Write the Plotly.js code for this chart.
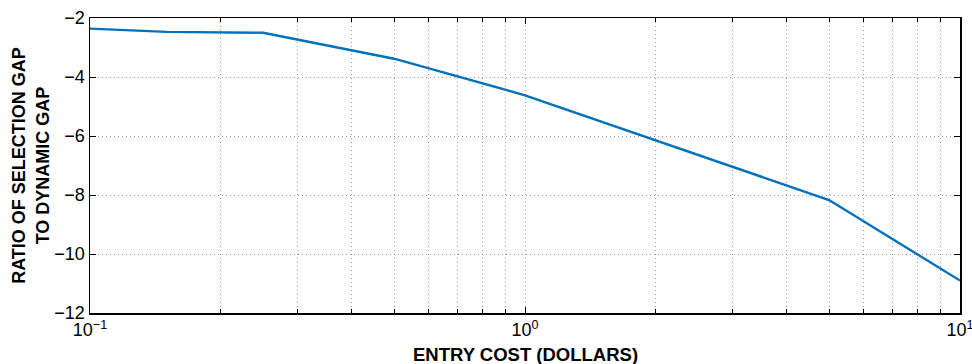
<!DOCTYPE html>
<html>
<head>
<meta charset="utf-8">
<script src="https://cdn.plot.ly/plotly-3.0.1.min.js"></script>
<style>
  html, body { margin: 0; padding: 0; background: #ffffff; }
  #chart { width: 972px; height: 364px; }
</style>
</head>
<body>
<div id="chart"></div>
<script>
// Entry cost (dollars) and the ratio of selection gap to dynamic gap
const entryCost = [0.1, 0.15, 0.25, 0.5, 1, 5, 10];
const gapRatio  = [-2.36, -2.47, -2.5, -3.38, -4.62, -8.17, -10.9];

// Decade ticks on the log axis
const xTickVals = [0.1, 1, 10];
const xTickText = ['10<sup>\u22121</sup>', '10<sup>0</sup>', '10<sup>1</sup>'];

const xTitle = 'ENTRY COST (DOLLARS)';
const yTitle = 'RATIO OF SELECTION GAP<br>TO DYNAMIC GAP';

const baseFont = { family: 'Liberation Sans, Arial, sans-serif', color: '#000000' };
const gridColor = '#9a9a9a';
const gridDash = '1px,3px';

const trace = {
  x: entryCost,
  y: gapRatio,
  type: 'scatter',
  mode: 'lines',
  line: { color: '#0072BD', width: 2.4 },
  hoverinfo: 'skip'
};

const layout = {
  width: 972,
  height: 364,
  margin: { l: 90, r: 12, t: 18, b: 51 },
  paper_bgcolor: '#ffffff',
  plot_bgcolor: '#ffffff',
  showlegend: false,
  font: Object.assign({ size: 18 }, baseFont),
  xaxis: {
    type: 'log',
    range: [-1, 1],
    tickmode: 'array',
    tickvals: xTickVals,
    ticktext: xTickText,
    ticklabeloverflow: 'allow',
    showline: true,
    linecolor: '#000000',
    linewidth: 1.5,
    mirror: 'allticks',
    ticks: 'inside',
    ticklen: 6,
    tickwidth: 1,
    tickcolor: '#000000',
    tickfont: Object.assign({ size: 18 }, baseFont),
    showgrid: true,
    gridcolor: gridColor,
    griddash: gridDash,
    gridwidth: 1,
    zeroline: false,
    minor: {
      dtick: 'D1',
      ticks: 'inside',
      ticklen: 4,
      tickcolor: '#000000',
      showgrid: true,
      gridcolor: gridColor,
      griddash: gridDash,
      gridwidth: 1
    }
  },
  yaxis: {
    range: [-12, -2],
    dtick: 2,
    showline: true,
    linecolor: '#000000',
    linewidth: 1.5,
    mirror: 'allticks',
    ticks: 'inside',
    ticklen: 6,
    tickwidth: 1,
    tickcolor: '#000000',
    tickfont: Object.assign({ size: 18 }, baseFont),
    showgrid: true,
    gridcolor: gridColor,
    griddash: gridDash,
    gridwidth: 1,
    zeroline: false,
    title: {
      text: yTitle,
      font: Object.assign({ size: 18, weight: 'bold' }, baseFont),
      standoff: 0
    }
  },
  // The x-axis title sits low in the bottom margin, so it is placed as an annotation
  annotations: [{
    text: xTitle,
    xref: 'paper', yref: 'paper',
    x: 0.5, y: 0,
    xanchor: 'center', yanchor: 'middle',
    yshift: -41,
    showarrow: false,
    font: Object.assign({ size: 18.5, weight: 'bold' }, baseFont)
  }]
};

Plotly.newPlot('chart', [trace], layout, { displayModeBar: false, staticPlot: true });
</script>
</body>
</html>
